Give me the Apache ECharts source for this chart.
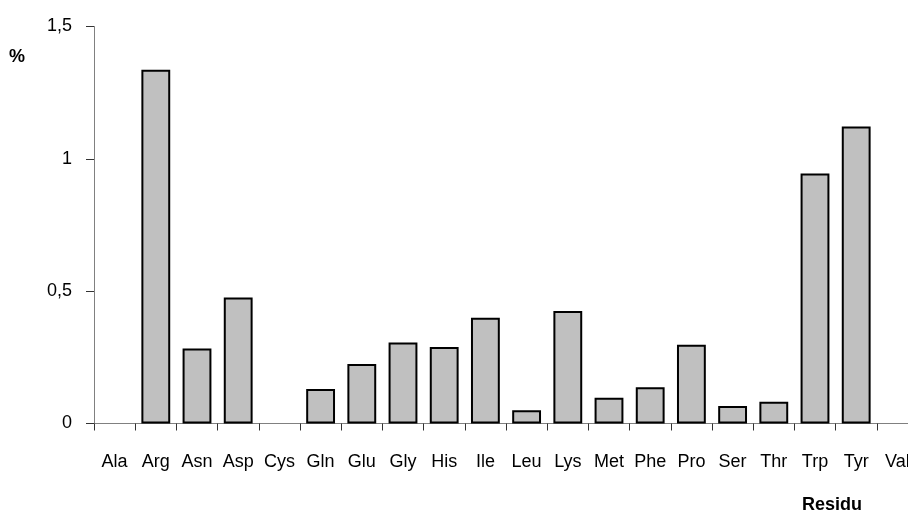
<!DOCTYPE html>
<html>
<head>
<meta charset="utf-8">
<script src="https://cdn.jsdelivr.net/npm/echarts@6/dist/echarts.min.js"></script>
<style>html,body{margin:0;padding:0;background:#fff;overflow:hidden;width:908px;height:514px;}#c{width:930px;height:514px;}</style>
</head>
<body>
<div id="c"></div>
<script>
const categories = ['Ala','Arg','Asn','Asp','Cys','Gln','Glu','Gly','His','Ile','Leu','Lys','Met','Phe','Pro','Ser','Thr','Trp','Tyr','Val'];
const values = [0, 1.337, 0.283, 0.476, 0, 0.130, 0.225, 0.306, 0.289, 0.400, 0.050, 0.425, 0.097, 0.137, 0.298, 0.066, 0.082, 0.945, 1.122, 0];
const yTicks = [0, 0.5, 1, 1.5];
const yName = '%';
const xName = 'Residu';

const chart = echarts.init(document.getElementById('c'), null, {renderer: 'canvas'});
const font = 'Liberation Sans, Arial, sans-serif';
chart.setOption({
  animation: false,
  backgroundColor: '#ffffff',
  grid: {left: 94, right: 12, top: 26.5, bottom: 90.5, containLabel: false},
  xAxis: {
    type: 'category',
    data: categories,
    boundaryGap: true,
    axisLine: {lineStyle: {color: '#808080', width: 1}},
    axisTick: {show: true, alignWithLabel: false, length: 7, lineStyle: {color: '#333', width: 1}},
    axisLabel: {color: '#000', fontFamily: font, fontSize: 18, margin: 30, interval: 0}
  },
  yAxis: {
    type: 'value',
    min: yTicks[0],
    max: yTicks[yTicks.length - 1],
    interval: 0.5,
    splitLine: {show: false},
    axisLine: {show: true, lineStyle: {color: '#808080', width: 1}},
    axisTick: {show: true, length: 8, lineStyle: {color: '#333', width: 1}},
    axisLabel: {color: '#000', fontFamily: font, fontSize: 18, margin: 22,
      formatter: v => String(v).replace('.', ',')}
  },
  series: [{
    type: 'bar',
    data: values.map(v => ({value: v, itemStyle: v === 0 ? {borderWidth: 0} : undefined})),
    barCategoryGap: '30%',
    itemStyle: {color: '#c0c0c0', borderColor: '#000', borderWidth: 2}
  }],
  graphic: [
    {type: 'text', left: 9, top: 48, style: {text: yName, font: 'bold 18px ' + font, fill: '#000'}},
    {type: 'text', left: 802, top: 496, style: {text: xName, font: 'bold 18px ' + font, fill: '#000'}}
  ]
});
</script>
</body>
</html>
